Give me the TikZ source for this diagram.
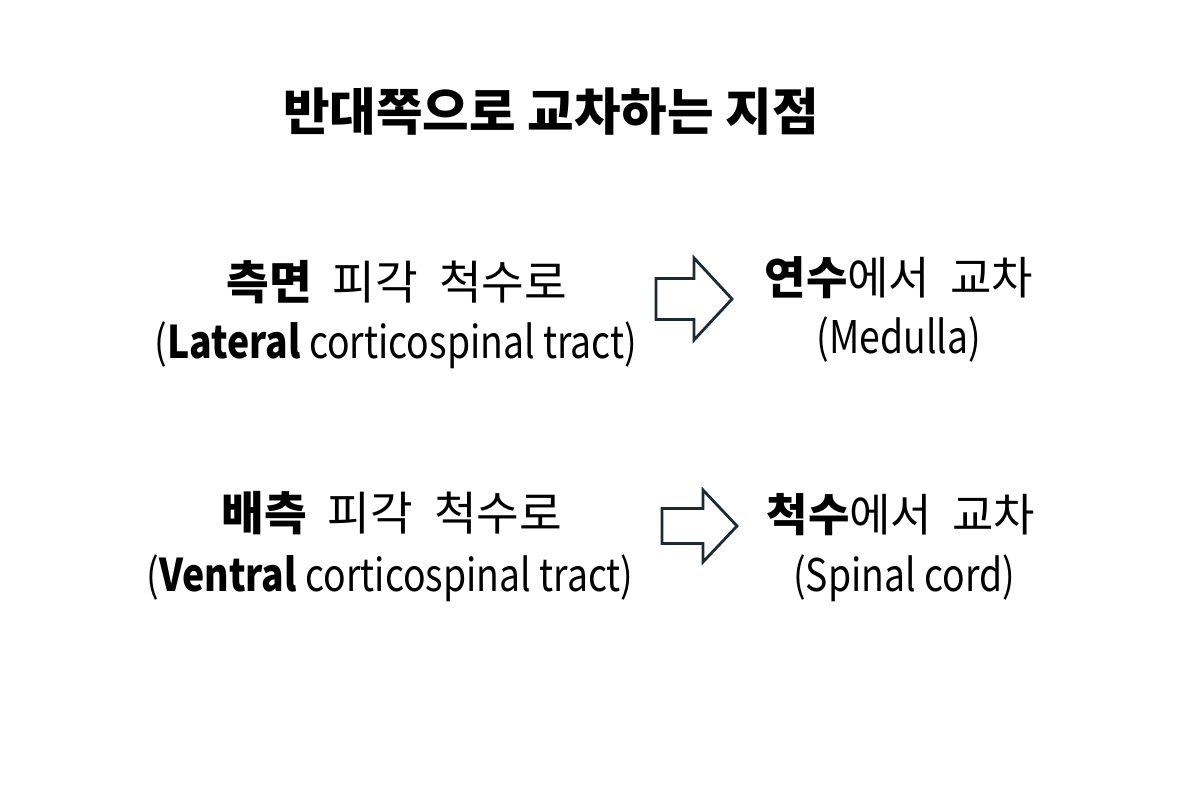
\documentclass[tikz,border=0pt]{standalone}
\usepackage{fontspec}
\setmainfont{Noto Sans CJK KR}[WordSpace=2.0]
\newfontfamily\titelschrift{Noto Sans CJK KR}
\newfontfamily\lateinschrift{Noto Sans CJK KR}[FakeStretch=0.83]
\usepackage{tikz}

\begin{document}
\begin{tikzpicture}[x=0.025cm,y=-0.025cm,
  titel/.style={font=\fontsize{36}{40}\titelschrift\bfseries},
  zeile/.style={font=\fontsize{33}{38}\selectfont},
  latein/.style={font=\fontsize{32}{36}\lateinschrift},
  blockpfeil/.style={draw={rgb,255:red,28;green,42;blue,52},line width=2pt,line join=miter}]
  \useasboundingbox (0,0) rectangle (1200,800);
  \node[titel] (titel) at (551,112) {반대쪽으로 교차하는 지점};
  % linke Spalte
  \node[zeile] (lateral) at (397,282) {\textbf{측면} 피각 척수로};
  \node[latein] (lateral-en) at (396,345) {(\textbf{Lateral} corticospinal tract)};
  \node[zeile] (ventral) at (392,513) {\textbf{배측} 피각 척수로};
  \node[latein] (ventral-en) at (390,578) {(\textbf{Ventral} corticospinal tract)};
  % rechte Spalte
  \node[zeile,font=\fontsize{32}{38}\selectfont] (medulla) at (899,278) {\textbf{연수}에서 교차};
  \node[latein] (medulla-en) at (899,340) {(Medulla)};
  \node[zeile,font=\fontsize{32}{38}\selectfont] (spinal) at (901,515) {\textbf{척수}에서 교차};
  \node[latein] (spinal-en) at (904,578) {(Spinal cord)};
  % Pfeile
  \coordinate (pfeil-oben) at (656,299);
  \coordinate (pfeil-unten) at (662,526);
  \draw[blockpfeil] (pfeil-oben) ++(0,-20.5) -- ++(38,0) -- ++(0,-20.5) -- ++(38,41) -- ++(-38,41)
    -- ++(0,-20.5) -- ++(-38,0) -- cycle;
  \draw[blockpfeil] (pfeil-unten) ++(0,-17.5) -- ++(41,0) -- ++(0,-18.5) -- ++(34,36) -- ++(-34,36)
    -- ++(0,-18.5) -- ++(-41,0) -- cycle;
\end{tikzpicture}
\end{document}
